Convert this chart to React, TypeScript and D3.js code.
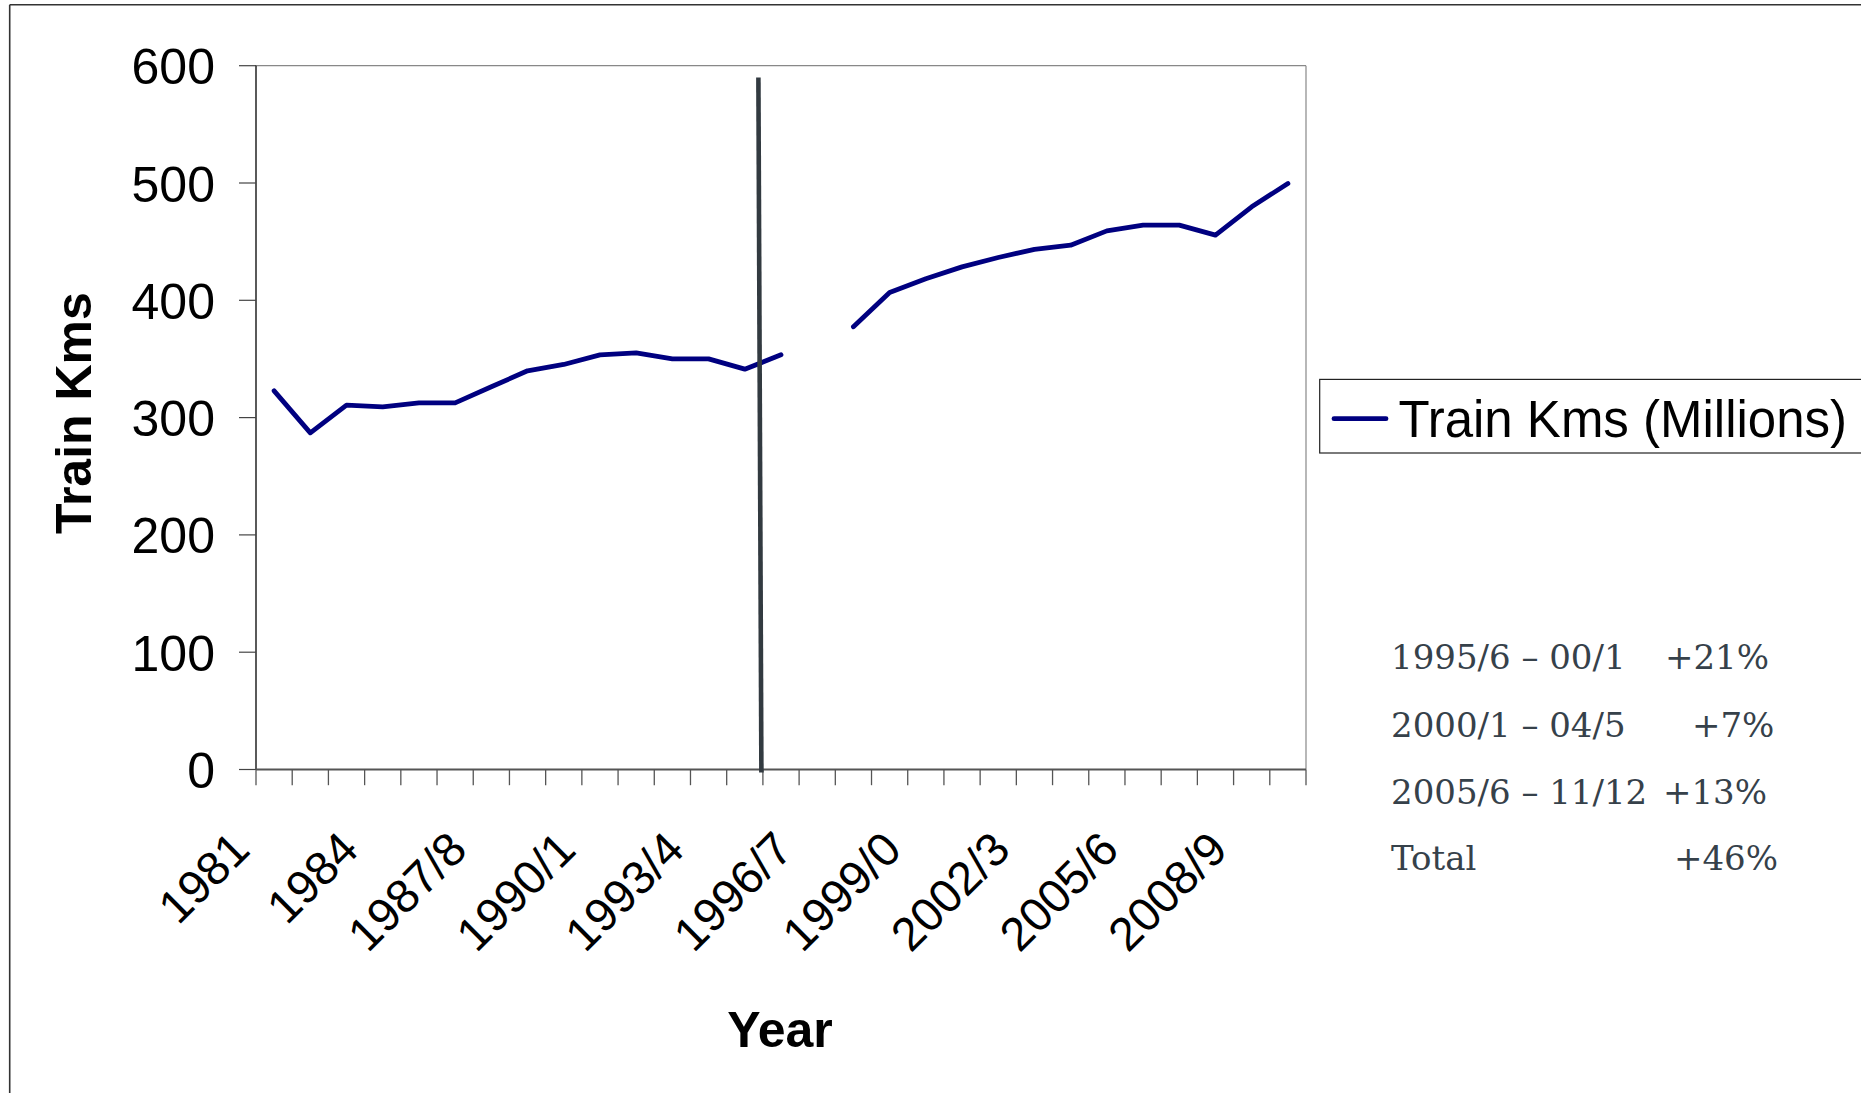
import React from "react";
import * as d3 from "d3";

// Financial-year categories along the x axis
const years: string[] = [
  "1981", "1982", "1983", "1984", "1985/6", "1986/7", "1987/8", "1988/9",
  "1989/0", "1990/1", "1991/2", "1992/3", "1993/4", "1994/5", "1995/6",
  "1996/7", "1997/8", "1998/9", "1999/0", "2000/1", "2001/2", "2002/3",
  "2003/4", "2004/5", "2005/6", "2006/7", "2007/8", "2008/9", "2009/0",
];

// Train kilometres (millions); null = no figure for that year
const trainKms: (number | null)[] = [
  322.8, 287.0, 310.7, 309.2, 312.6, 312.6, 326.3, 339.9, 345.3, 353.5,
  355.2, 350.1, 350.1, 341.3, 353.5, null, 377.4, 406.7, 418.3, 428.5,
  436.5, 443.4, 447.0, 459.2, 464.1, 464.1, 455.6, 479.7, 499.6,
];

const yTicks: number[] = [0, 100, 200, 300, 400, 500, 600];
const labelEvery = 3;

// Divider drawn at the start of this category
const dividerAt = "1995/6";
const dividerTop = 590;

// Growth summary
const periods: string[] = ["1995/6 – 00/1", "2000/1 – 04/5", "2005/6 – 11/12", "Total"];
const changes: string[] = ["+21%", "+7%", "+13%", "+46%"];
const changeX: number[] = [1665, 1692, 1663, 1674];

const seriesName = "Train Kms (Millions)";

const W = 1861;
const H = 1093;
const plot = { left: 256, right: 1306, top: 65.7, bottom: 769.5 };
const sans = "'Liberation Sans', Arial, Helvetica, sans-serif";

export default function App() {
  const x = d3.scaleBand<string>().domain(years).range([plot.left, plot.right]).padding(0);
  const y = d3.scaleLinear().domain([0, 600]).range([plot.bottom, plot.top]);

  const pts = years.map((c, i) => ({ c, v: trainKms[i] }));
  const line = d3
    .line<{ c: string; v: number | null }>()
    .defined((d) => d.v !== null)
    .x((d) => (x(d.c) as number) + x.bandwidth() / 2)
    .y((d) => y(d.v as number));

  const boundaries = d3.range(years.length + 1).map((i) => plot.left + i * x.bandwidth());
  const divX = x(dividerAt) as number;

  return (
    <svg
      width={W}
      height={H}
      style={{ position: "absolute", left: 0, top: 0, background: "#fff" }}
      fontFamily={sans}
    >
      <rect x={0} y={0} width={W} height={H} fill="#fff" />
      {/* outer chart border */}
      <line x1={9.7} y1={4.7} x2={W} y2={4.7} stroke="#333" strokeWidth={1.6} />
      <line x1={9.7} y1={4.7} x2={9.7} y2={H} stroke="#333" strokeWidth={1.6} />

      {/* plot frame */}
      <line x1={plot.left} y1={plot.top} x2={plot.right} y2={plot.top} stroke="#888" strokeWidth={1.2} />
      <line x1={plot.right} y1={plot.top} x2={plot.right} y2={plot.bottom} stroke="#888" strokeWidth={1.2} />

      {/* y axis */}
      <line x1={plot.left} y1={plot.top} x2={plot.left} y2={plot.bottom} stroke="#000" strokeWidth={1.3} />
      {yTicks.map((t) => (
        <g key={t}>
          <line x1={plot.left - 17} x2={plot.left} y1={y(t)} y2={y(t)} stroke="#444" strokeWidth={1.2} />
          <text x={215} y={y(t) + 18.5} textAnchor="end" fontSize={50} fill="#000">
            {t}
          </text>
        </g>
      ))}
      <text
        transform={`translate(90.7, 413) rotate(-90)`}
        textAnchor="middle"
        fontSize={50}
        fontWeight="bold"
        fill="#000"
      >
        Train Kms
      </text>

      {/* x axis */}
      <line x1={plot.left} y1={plot.bottom} x2={plot.right} y2={plot.bottom} stroke="#555" strokeWidth={2} />
      {boundaries.map((bx, i) => (
        <line key={i} x1={bx} x2={bx} y1={plot.bottom} y2={plot.bottom + 15.7} stroke="#555" strokeWidth={1.3} />
      ))}
      {years.map((c, i) =>
        i % labelEvery === 0 ? (
          <text
            key={c}
            transform={`translate(${(x(c) as number) + x.bandwidth() / 2 - 22}, 852) rotate(-45)`}
            textAnchor="end"
            fontSize={47}
            fill="#000"
          >
            {c}
          </text>
        ) : null
      )}
      <text x={780} y={1047} textAnchor="middle" fontSize={50} fontWeight="bold" fill="#000">
        Year
      </text>

      {/* series */}
      <path
        d={line(pts) || ""}
        fill="none"
        stroke="#000080"
        strokeWidth={4.8}
        strokeLinejoin="round"
        strokeLinecap="round"
      />

      {/* divider */}
      <line
        x1={divX - 4.5}
        y1={y(dividerTop)}
        x2={divX - 1.5}
        y2={plot.bottom + 3}
        stroke="#323a40"
        strokeWidth={4.6}
      />

      {/* legend */}
      <rect x={1319.7} y={379.4} width={W} height={73.6} fill="#fff" stroke="#222" strokeWidth={1.2} />
      <line x1={1334} x2={1386} y1={418.7} y2={418.7} stroke="#000080" strokeWidth={4.8} strokeLinecap="round" />
      <text x={1398.4} y={436.6} fontSize={51} fill="#000">
        {seriesName}
      </text>

      {/* growth summary */}
      {periods.map((p, i) => {
        const by = [669.2, 737.1, 804.4, 869.5][i];
        return (
          <g key={p} fontFamily="'DejaVu Serif', 'Liberation Serif', serif" fontSize={34} fill="#36414a">
            <text x={1391} y={by}>{p}</text>
            <text x={changeX[i]} y={by}>{changes[i]}</text>
          </g>
        );
      })}
    </svg>
  );
}
